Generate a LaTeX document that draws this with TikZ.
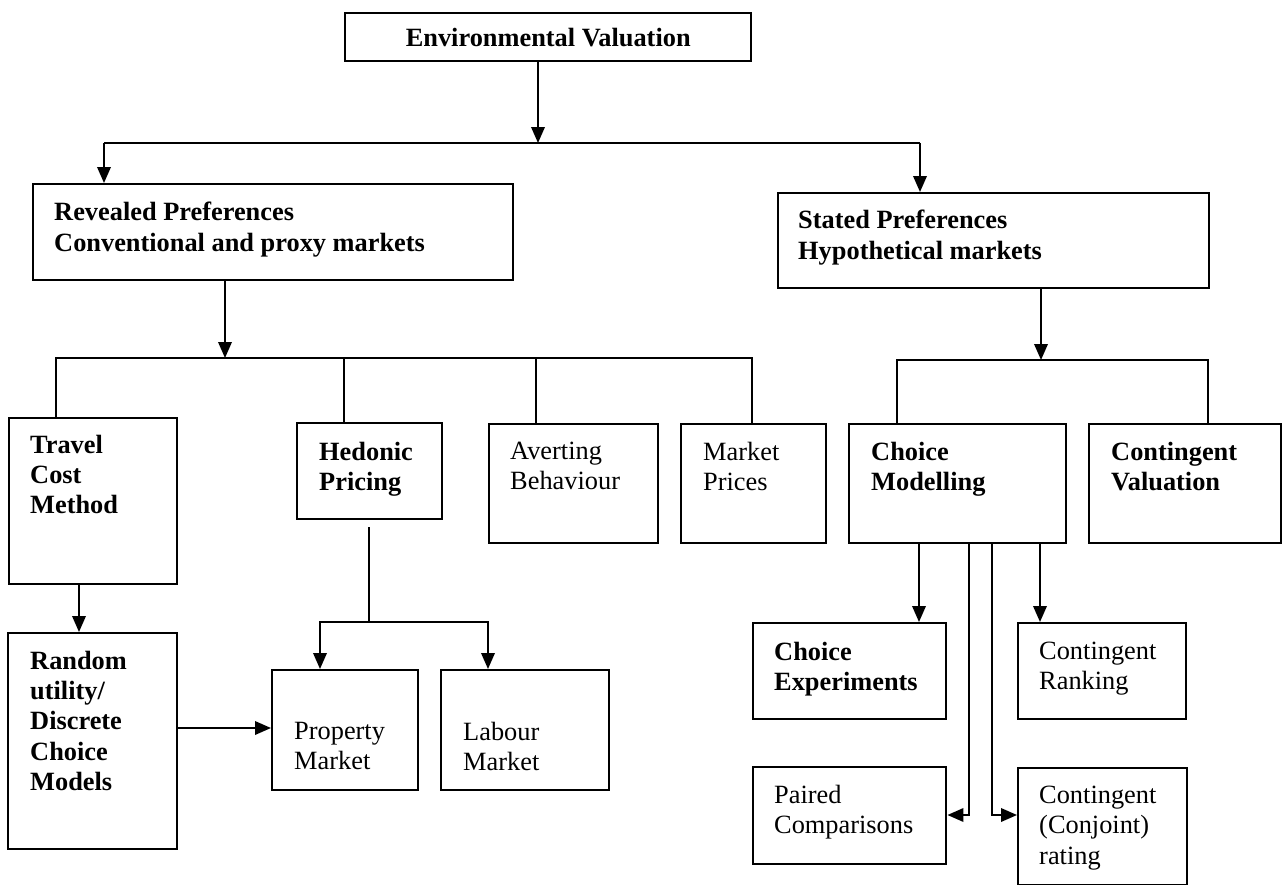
\documentclass[tikz,border=0pt]{standalone}
\usepackage{fontspec}
\setmainfont{Liberation Serif}
\usepackage{tikz}
\usetikzlibrary{arrows.meta}

\newlength{\px}
\setlength{\px}{0.02cm}
% box contents: width, height, left pad, top pad, text
\newcommand{\cell}[5]{\parbox[c][#2\px][t]{#1\px}{\raggedright\leftskip=#3\px\vspace*{#4\px}#5}}

\begin{document}
\begin{tikzpicture}[>={Triangle[length=0.32cm,width=0.27cm]},x=0.02cm,y=-0.02cm,line width=1.1pt,font=\fontsize{15}{17.2}\selectfont]
  \tikzstyle{blk}=[draw,line width=1.4pt,anchor=north west,inner sep=0pt]

  \useasboundingbox (0,0) rectangle (1288,885);

  \node[blk] (env) at (344,12)  {\parbox[c][48\px][c]{406\px}{\centering\bfseries Environmental Valuation}};
  \node[blk] (rp)  at (32,183)  {\cell{480}{96}{21}{18}{\bfseries Revealed Preferences\\Conventional and proxy markets}};
  \node[blk] (sp)  at (777,192) {\cell{431}{95}{20}{17}{\bfseries Stated Preferences\\Hypothetical markets}};
  \node[blk] (tc)  at (8,417)   {\cell{168}{166}{21}{17}{\bfseries Travel\\Cost\\Method}};
  \node[blk] (hp)  at (296,422) {\cell{145}{96}{22}{19}{\bfseries Hedonic\\Pricing}};
  \node[blk] (ab)  at (488,423) {\cell{169}{119}{21}{18}{Averting\\Behaviour}};
  \node[blk] (mp)  at (680,423) {\cell{145}{119}{22}{18}{Market\\Prices}};
  \node[blk] (cm)  at (848,423) {\cell{217}{119}{22}{18}{\bfseries Choice\\Modelling}};
  \node[blk] (cv)  at (1088,423) {\cell{192}{119}{22}{18}{\bfseries Contingent\\Valuation}};
  \node[blk] (ru)  at (7,632)   {\cell{169}{216}{22}{18}{\bfseries Random\\utility/\\Discrete\\Choice\\Models}};
  \node[blk] (pm)  at (271,669) {\cell{146}{120}{22}{52}{Property\\Market}};
  \node[blk] (lm)  at (440,669) {\cell{168}{120}{22}{52}{Labour\\Market}};
  \node[blk] (ce)  at (752,622) {\cell{193}{96}{21}{19}{\bfseries Choice\\Experiments}};
  \node[blk] (cr)  at (1017,622) {\cell{168}{96}{21}{19}{Contingent\\Ranking}};
  \node[blk] (pc)  at (752,766) {\cell{193}{97}{21}{18}{Paired\\Comparisons}};
  \node[blk] (cc)  at (1017,767) {\cell{169}{117}{21}{18}{Contingent\\(Conjoint)\\rating}};

  % valuation split
  \coordinate (t0) at (538,143);
  \coordinate (tl) at (104,143);
  \coordinate (tr) at (920,143);
  \draw[->] (env.south -| t0) -- (t0);
  \draw (tl) -- (tr);
  \draw[->] (tl) -- (tl |- rp.north);
  \draw[->] (tr) -- (tr |- sp.north);

  % revealed preferences
  \coordinate (r0) at (225,358);
  \coordinate (r1) at (56,358);
  \coordinate (r2) at (344,358);
  \coordinate (r3) at (536,358);
  \coordinate (r4) at (752,358);
  \draw[->] (rp.south -| r0) -- (r0);
  \draw (tc.north -| r1) -- (r1) -- (r4) -- (r4 |- mp.north);
  \draw (r2) -- (r2 |- hp.north);
  \draw (r3) -- (r3 |- ab.north);

  % stated preferences
  \coordinate (s0) at (1041,360);
  \coordinate (s1) at (897,360);
  \coordinate (s2) at (1208,360);
  \draw[->] (sp.south -| s0) -- (s0);
  \draw (cm.north -| s1) -- (s1) -- (s2) -- (s2 |- cv.north);

  % travel cost and hedonic pricing
  \coordinate (t1) at (79,600);
  \coordinate (q0) at (220,728);
  \draw[->] (tc.south -| t1) -- (ru.north -| t1);
  \draw[->] (ru.east |- q0) -- (pm.west |- q0);
  \coordinate (h0) at (369,622);
  \coordinate (h1) at (320,622);
  \coordinate (h2) at (488,622);
  \draw[shorten <=0.14cm] (hp.south -| h0) -- (h0);
  \draw[<->] (h1 |- pm.north) -- (h1) -- (h2) -- (h2 |- lm.north);

  % choice modelling
  \coordinate (k1) at (919,580);
  \coordinate (k2) at (1040,580);
  \coordinate (k3) at (969,815);
  \coordinate (k4) at (992,815);
  \draw[->] (cm.south -| k1) -- (ce.north -| k1);
  \draw[->] (cm.south -| k2) -- (cr.north -| k2);
  \draw[->] (cm.south -| k3) -- (k3) -- (pc.east |- k3);
  \draw[->] (cm.south -| k4) -- (k4) -- (cc.west |- k4);
\end{tikzpicture}
\end{document}
